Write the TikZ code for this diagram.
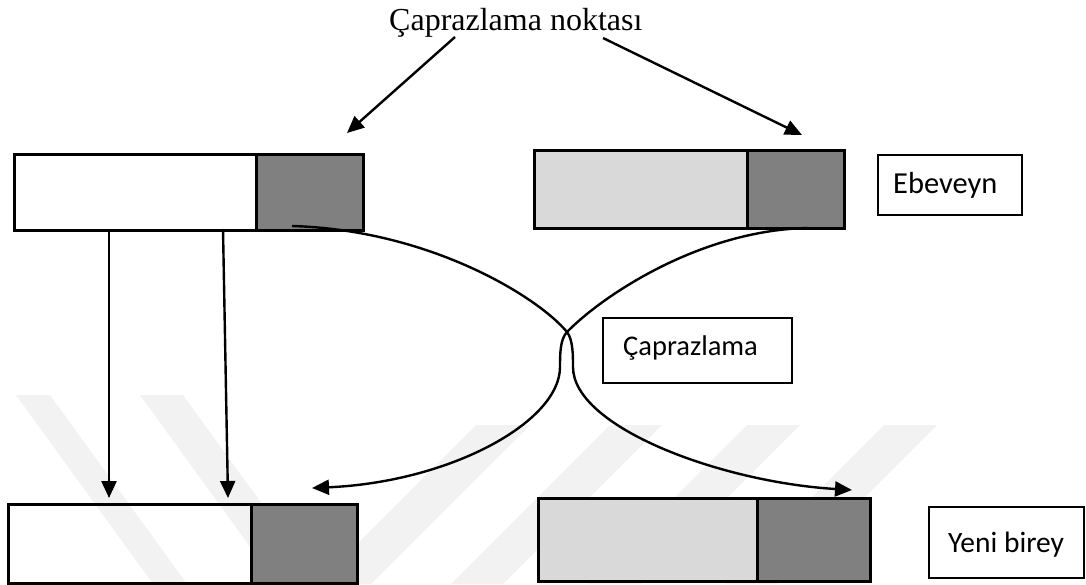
\documentclass[tikz,border=0pt]{standalone}
\usepackage{fontspec}
\setmainfont{Liberation Serif}
\newfontfamily\boxfont{Carlito}
\usetikzlibrary{arrows.meta}
\definecolor{tailgray}{RGB}{128,128,128}
\definecolor{headgray}{RGB}{217,217,217}
\definecolor{bandgray}{RGB}{242,242,242}
\tikzset{
  part/.style={draw=black, line width=2.6pt, inner sep=0pt, anchor=north west},
  headw/.style={part},
  headl/.style={part, fill=headgray},
  tailp/.style={part, fill=tailgray},
  tagbox/.style={draw=black, line width=1.6pt, anchor=north west, inner sep=0pt, fill=white},
  tagtext/.style={anchor=base west, inner sep=0pt, font=\boxfont\fontsize{28.5}{32}\selectfont},
  link/.style={line width=2.4pt, -{Triangle[length=17pt,width=15pt]}},
  band/.style={fill=bandgray, draw=none}
}
\begin{document}
\begin{tikzpicture}[x=1pt, y=-1pt]
\useasboundingbox (0,0) rectangle (1086,584);

% faint diagonal stripes across the lower part (background)
\fill[band] (16,395) -- (50,395) -- (187,584) -- (153,584) -- cycle;
\fill[band] (140,395) -- (183,395) -- (320,584) -- (277,584) -- cycle;
\fill[band] (476,425) -- (530,425) -- (371,584) -- (317,584) -- cycle;
\fill[band] (610,425) -- (662,425) -- (503,584) -- (451,584) -- cycle;
\fill[band] (747,425) -- (800,425) -- (641,584) -- (588,584) -- cycle;
\fill[band] (884,425) -- (937,425) -- (778,584) -- (725,584) -- cycle;

% parent chromosomes
\node[headw, minimum width=242pt, minimum height=76pt] (p1h) at (13,153) {};
\node[tailp, minimum width=107pt, minimum height=76pt] (p1t) at (255,153) {};
\node[headl, minimum width=213pt, minimum height=78pt] (p2h) at (533,149) {};
\node[tailp, minimum width=97pt,  minimum height=78pt] (p2t) at (746,149) {};

% offspring chromosomes
\node[headw, minimum width=243pt, minimum height=79pt] (c1h) at (7,503) {};
\node[tailp, minimum width=106pt, minimum height=79pt] (c1t) at (250,503) {};
\node[headl, minimum width=219pt, minimum height=83pt] (c2h) at (537,497) {};
\node[tailp, minimum width=113pt, minimum height=83pt] (c2t) at (756,497) {};

% title
\node[font=\fontsize{32}{36}\selectfont, anchor=base west, inner sep=0pt]
  (title) at (389,30) {Çaprazlama noktası};

% framed labels
\node[tagbox, minimum width=144pt, minimum height=60pt] (ebe) at (877,154) {};
\node[tagtext, font=\boxfont\fontsize{30.5}{34}\selectfont] (ebet) at (893,193) {Ebeveyn};
\node[tagbox, minimum width=189pt, minimum height=65pt] (cap) at (602,317) {};
\node[tagtext] (capt) at (623,355) {Çaprazlama};
\node[tagbox, minimum width=155pt, minimum height=71pt] (yeni) at (928,506) {};
\node[tagtext, font=\boxfont\fontsize{29.5}{33}\selectfont] (yenit) at (948,552) {Yeni birey};

% arrow end points
\coordinate (tl) at (455,37);
\coordinate (tr) at (603,38);
\coordinate (cutl) at (347,133);
\coordinate (cutr) at (802,135);
\coordinate (g1s) at (109,229);
\coordinate (g1e) at (109,498);
\coordinate (g2s) at (223,229);
\coordinate (g2e) at (228,498);
\coordinate (s1) at (292,226);
\coordinate (s2) at (808,228);
\coordinate (e1) at (852,490);
\coordinate (e2) at (312,488);
\coordinate (x1) at (567,332);
\coordinate (w1) at (573,367);
\coordinate (w2) at (560,367);

% crossover points
\draw[link] (tl) -- (cutl);
\draw[link] (tr) -- (cutr);

% genes copied unchanged
\draw[link] (g1s) -- (g1e);
\draw[link] (g2s) -- (g2e);

% exchanged tails
\draw[link] (s1) .. controls (430,230) and (538,297) .. (x1)
  .. controls (573,340) and (573,355) .. (w1)
  .. controls (573,427) and (720,482) .. (e1);
\draw[link] (s2) .. controls (700,230) and (602,296) .. (x1)
  .. controls (560,339) and (560,355) .. (w2)
  .. controls (560,422) and (450,482) .. (e2);
\end{tikzpicture}
\end{document}
